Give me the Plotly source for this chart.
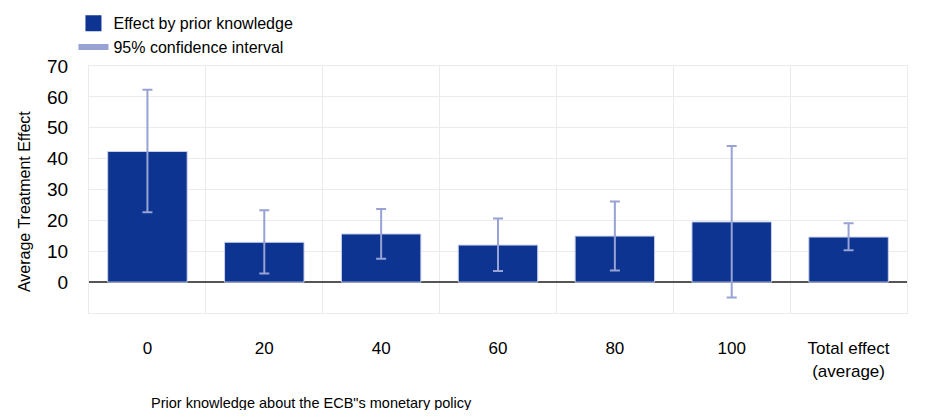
import plotly.graph_objects as go

categories = ["0", "20", "40", "60", "80", "100", "Total effect<br>(average)"]
effects = [42.3, 12.9, 15.6, 12.0, 14.9, 19.5, 14.6]
ci_upper = [62.3, 23.3, 23.7, 20.6, 26.1, 44.1, 19.1]
ci_lower = [22.6, 2.8, 7.6, 3.6, 3.8, -5.0, 10.3]

err_plus = [u - e for u, e in zip(ci_upper, effects)]
err_minus = [e - l for l, e in zip(ci_lower, effects)]

BAR = "#0d3490"
CI = "#98a2d4"
SANS = "Liberation Sans, Arial, sans-serif"

fig = go.Figure()
fig.add_trace(go.Bar(
    x=categories, y=effects, name="Effect by prior knowledge", showlegend=False,
    marker=dict(color=BAR, line=dict(color="#c9d0ea", width=1)),
    width=0.68,
    error_y=dict(type="data", symmetric=False, array=err_plus, arrayminus=err_minus,
                 color=CI, thickness=2, width=5),
))
fig.add_trace(go.Scatter(
    x=[None], y=[None], mode="markers", name="Effect by prior knowledge",
    marker=dict(color=BAR, symbol="square", size=16),
))
fig.add_trace(go.Scatter(
    x=[None], y=[None], mode="lines", name="95% confidence interval",
    line=dict(color=CI, width=6),
))

fig.update_layout(
    width=924, height=402,
    margin=dict(l=81, r=25, t=58, b=97, autoexpand=False),
    plot_bgcolor="white", paper_bgcolor="white",
    font=dict(family=SANS, color="#000000"),
    legend=dict(x=-0.019, y=1.242, xanchor="left", yanchor="top",
                font=dict(size=16, family=SANS), tracegroupgap=2,
                itemwidth=30, bgcolor="rgba(0,0,0,0)"),
    showlegend=True,
    annotations=[
        dict(text="Average Treatment Effect", textangle=-90, xref="paper", yref="paper",
             x=-0.078, y=0.45, xanchor="center", yanchor="middle", showarrow=False,
             font=dict(size=16, family=SANS)),
        dict(text="Prior knowledge about the ECB\"s monetary policy", xref="paper", yref="paper",
             x=0.272, y=-0.366, xanchor="center", yanchor="middle", showarrow=False,
             font=dict(size=14.5, family=SANS)),
    ],
)
fig.update_yaxes(
    range=[-10, 70], tickvals=[0, 10, 20, 30, 40, 50, 60, 70],
    showgrid=True, gridcolor="#ebebeb", gridwidth=1,
    zeroline=True, zerolinecolor="#555555", zerolinewidth=1.5,
    tickfont=dict(size=19, family=SANS), ticklabelstandoff=16,
    showline=True, linecolor="#ebebeb", mirror=True, automargin=False,
)
fig.update_xaxes(
    tickson="boundaries", showgrid=True, gridcolor="#ebebeb", gridwidth=1,
    ticks="", tickfont=dict(size=17, family=SANS), ticklabelstandoff=20,
    showline=True, linecolor="#ebebeb", mirror=True, automargin=False,
)

fig.write_html("out.html")
